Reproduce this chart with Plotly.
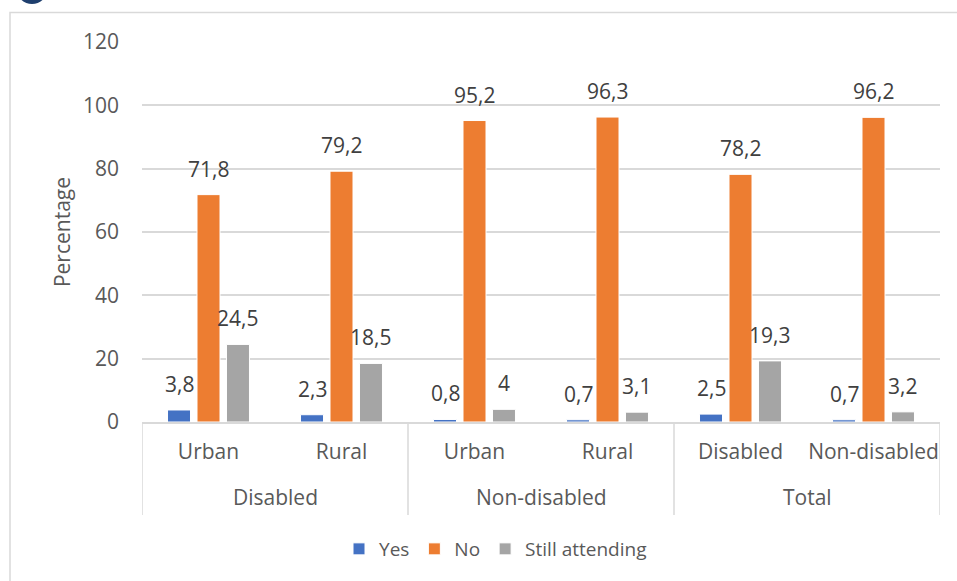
import plotly.graph_objects as go

# Survey shares by disability status and area
groups = ["Disabled", "Non-disabled", "Total"]
subgroups = ["Urban", "Rural", "Urban", "Rural", "Disabled", "Non-disabled"]

yes_vals = [3.8, 2.3, 0.8, 0.7, 2.5, 0.7]
no_vals = [71.8, 79.2, 95.2, 96.3, 78.2, 96.2]
still_vals = [24.5, 18.5, 4, 3.1, 19.3, 3.2]

series = [
    ("Yes", yes_vals, "#4472C4"),
    ("No", no_vals, "#ED7D31"),
    ("Still attending", still_vals, "#A5A5A5"),
]

y_ticks = [0, 20, 40, 60, 80, 100, 120]

FONT = "Open Sans"
W, H = 957, 581
L, R, T, B = 142, 17, 42, 159
PW, PH = W - L - R, H - T - B
BARGAP = 0.335
SLOT = (1 - BARGAP) / len(series)


def px_x(p):
    return (p - L) / PW


def px_y(p):
    return (H - B - p) / PH


def fmt(v):
    return f"{v:g}".replace(".", ",")


positions = list(range(len(subgroups)))
subs_per_group = len(subgroups) // len(groups)

fig = go.Figure()
annotations = []
for k, (name, vals, color) in enumerate(series):
    fig.add_trace(go.Bar(
        name=name,
        x=positions,
        y=vals,
        marker=dict(color=color, line=dict(color="white", width=1)),
        hoverinfo="x+y+name",
    ))
    # value labels above each bar
    for i, v in zip(positions, vals):
        annotations.append(dict(
            x=i + (k - 1) * SLOT, y=v, xref="x", yref="y",
            text=fmt(v), showarrow=False,
            yanchor="middle", yshift=26,
            font=dict(family=FONT, size=21, color="#404040"),
        ))

# outer category labels
for g, name in enumerate(groups):
    annotations.append(dict(
        x=g * subs_per_group + (subs_per_group - 1) / 2, y=px_y(497), xref="x", yref="paper",
        text=name, showarrow=False, yanchor="middle",
        font=dict(family=FONT, size=21, color="#595959"),
    ))

# dividers between outer categories
dividers = []
for g in range(len(groups) + 1):
    xd = g * subs_per_group - 0.5
    dividers.append(dict(
        type="line", xref="x", yref="paper",
        x0=xd, x1=xd, y0=px_y(422), y1=px_y(515),
        line=dict(color="#d9d9d9", width=1.5),
    ))

fig.update_layout(
    width=W, height=H,
    margin=dict(l=L, r=R, t=T, b=B),
    paper_bgcolor="white",
    plot_bgcolor="white",
    barmode="group",
    bargap=BARGAP,
    bargroupgap=0.22,
    font=dict(family=FONT, color="#595959"),
    legend=dict(
        orientation="h",
        x=0.443, xanchor="center",
        y=px_y(549), yanchor="middle",
        font=dict(family=FONT, size=19, color="#595959"),
        itemwidth=30,
        traceorder="normal",
    ),
    xaxis=dict(
        range=[-0.5, len(subgroups) - 0.5],
        tickvals=positions,
        ticktext=subgroups,
        showgrid=False,
        zeroline=False,
        showline=True,
        linecolor="#d9d9d9",
        linewidth=1.5,
        ticks="",
        ticklabelstandoff=10,
        tickfont=dict(family=FONT, size=21, color="#595959"),
    ),
    yaxis=dict(
        range=[0, 120],
        tickvals=y_ticks,
        showgrid=True,
        gridcolor="#d9d9d9",
        gridwidth=1.5,
        zeroline=False,
        showline=False,
        ticks="",
        ticklabelstandoff=22,
        tickfont=dict(family=FONT, size=21, color="#595959"),
        title=dict(text="Percentage", font=dict(family=FONT, size=21, color="#595959"), standoff=6),
    ),
    annotations=annotations,
    shapes=dividers + [
        # outer chart frame
        dict(type="rect", xref="paper", yref="paper",
             x0=px_x(10), x1=px_x(970), y0=px_y(600), y1=px_y(12.5),
             line=dict(color="#d9d9d9", width=1.5), fillcolor="rgba(0,0,0,0)", layer="below"),
        # logo fragment at the top-left corner
        dict(type="circle", xref="paper", yref="paper",
             x0=px_x(17), x1=px_x(47), y0=px_y(4), y1=px_y(-24),
             line=dict(color="#1F3F6E", width=0), fillcolor="#1F3F6E"),
    ],
)

fig.write_html("out.html")
